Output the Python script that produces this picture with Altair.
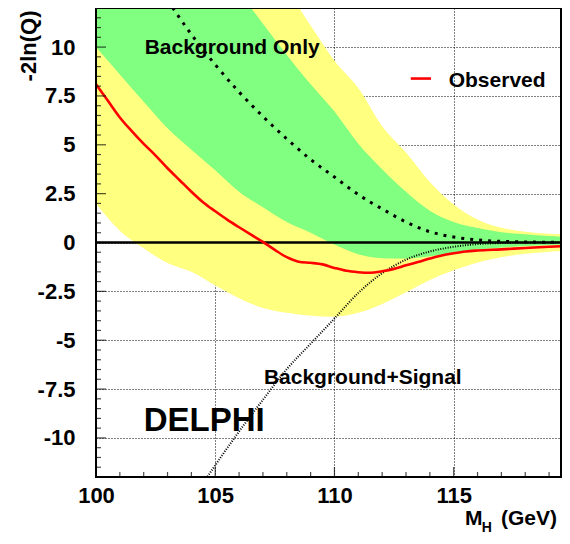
import altair as alt
import pandas as pd

# ---------------- data ----------------
# expected bands (background-only hypothesis), common mass grid
MASS_BAND = [100, 101, 102, 103, 104, 105, 106, 107, 108, 109, 110,
             111, 112, 113, 114, 115, 116, 117, 118, 119, 119.5]
HI2 = [26, 24, 22, 20, 18.5, 17, 15.3, 14.0, 12.9, 11.1, 9.3,
       7.9, 5.95, 4.6, 3.1, 1.95, 1.18, 0.75, 0.55, 0.45, 0.42]
HI1 = [22, 20.5, 19, 17.3, 15.8, 14.3, 12.8, 11.2, 9.6, 8.1, 6.7,
       5.05, 3.75, 2.6, 1.63, 1.05, 0.74, 0.53, 0.42, 0.33, 0.3]
LO1 = [10.0, 8.6, 7.2, 5.85, 4.75, 3.7, 2.6, 1.8, 1.05, 0.5, -0.1,
       -0.6, -0.8, -0.82, -0.7, -0.52, -0.36, -0.26, -0.18, -0.13, -0.1]
LO2 = [2.0, 0.6, -0.3, -1.05, -1.5, -2.2, -2.85, -3.35, -3.6, -3.75, -3.8,
       -3.6, -3.15, -2.55, -1.92, -1.42, -1.02, -0.75, -0.58, -0.47, -0.44]

# expected curve, background only
BG_MASS = [103, 104, 105, 106, 107, 108, 109, 110, 111, 112, 113,
           114, 115, 116, 117, 118, 119, 119.5]
BG_EXP = [12.4, 10.65, 9.1, 7.7, 6.45, 5.3, 4.25, 3.35, 2.45, 1.72, 1.05,
          0.55, 0.28, 0.13, 0.06, 0.03, 0.01, 0.01]

# expected curve, background + signal
SB_MASS = [104.5, 105, 106, 107, 108, 109, 110, 111, 112, 113, 114,
           115, 116, 117, 118, 119, 119.5]
SB_EXP = [-12.3, -11.4, -9.67, -8.05, -6.48, -5.18, -3.89, -2.58, -1.57, -0.88, -0.46,
          -0.22, -0.08, -0.03, -0.01, 0.0, 0.0]

# observed
OBS_MASS = [100, 100.5, 101, 101.5, 102, 102.5, 103, 103.5, 104, 104.5,
            105, 105.5, 106, 106.5, 107, 107.5, 108, 108.5, 109, 109.5,
            110, 110.5, 111, 111.5, 112, 112.5, 113, 113.5, 114, 114.5,
            115, 115.5, 116, 117, 118, 119, 119.5]
OBS = [8.1, 7.25, 6.4, 5.7, 5.05, 4.45, 3.8, 3.2, 2.6, 2.05,
       1.6, 1.17, 0.78, 0.4, 0.03, -0.38, -0.75, -0.98, -1.04, -1.12,
       -1.3, -1.45, -1.52, -1.55, -1.47, -1.35, -1.17, -1.0, -0.82, -0.66,
       -0.55, -0.46, -0.41, -0.35, -0.28, -0.22, -0.19]

# axis ticks
X_MAJOR = [100, 105, 110, 115]
X_MINOR = [m for m in range(101, 120) if m % 5 != 0]
Y_MAJOR = [-10, -7.5, -5, -2.5, 0, 2.5, 5, 7.5, 10]
Y_MINOR = [v / 2 for v in range(-23, 24) if v % 5 != 0]

# ---------------- chart ----------------
FONT = "Liberation Sans"
xs = alt.Scale(domain=[100, 119.5], nice=False, zero=False)
ys = alt.Scale(domain=[-12, 12], nice=False, zero=False)

x_axis = alt.Axis(values=X_MAJOR, title=None, grid=True, gridColor="black",
                  gridDash=[1, 2], gridWidth=1, gridOpacity=1, domain=False,
                  ticks=False, tickSize=0, labelFont=FONT, labelFontSize=22,
                  labelFontWeight="bold", labelColor="black", labelPadding=8,
                  labelExpr="'' + datum.value", labelFlush=False, labelOverlap=False)
y_axis = alt.Axis(values=Y_MAJOR, title="-2ln(Q)", grid=True, gridColor="black",
                  gridDash=[1, 2], gridWidth=1, gridOpacity=1, domain=False,
                  ticks=False, tickSize=0, labelFont=FONT, labelFontSize=22,
                  labelFontWeight="bold", labelColor="black", labelPadding=21,
                  labelExpr="'' + datum.value", labelFlush=False, labelOverlap=False,
                  titleFont=FONT, titleFontSize=22, titleFontWeight="bold",
                  titleColor="black", titleAngle=-90, titleAlign="right",
                  titleBaseline="middle", titleX=-68, titleY=2)

X = lambda f="m": alt.X(f"{f}:Q", scale=xs, axis=x_axis)
Y = lambda f="v": alt.Y(f"{f}:Q", scale=ys, axis=y_axis)

band_df = pd.DataFrame({"m": MASS_BAND, "lo2": LO2, "hi2": HI2, "lo1": LO1, "hi1": HI1})
bg_df = pd.DataFrame({"m": BG_MASS, "v": BG_EXP})
sb_df = pd.DataFrame({"m": SB_MASS, "v": SB_EXP})
obs_df = pd.DataFrame({"m": OBS_MASS, "v": OBS})
one = pd.DataFrame({"k": [0]})

yellow = alt.Chart(band_df).mark_area(color="#ffff80", clip=True, interpolate="monotone").encode(
    x=X(), y=Y("lo2"), y2="hi2:Q")
green = alt.Chart(band_df).mark_area(color="#80ff80", clip=True, interpolate="monotone").encode(
    x=X(), y=Y("lo1"), y2="hi1:Q")
zero = alt.Chart(one).mark_rule(color="black", strokeWidth=2.7).encode(y=alt.datum(0))
bg = alt.Chart(bg_df).mark_line(color="black", strokeWidth=3, strokeDash=[3, 6], strokeCap="butt",
                                clip=True, interpolate="monotone").encode(x=X(), y=Y())
sb = alt.Chart(sb_df).mark_line(color="black", strokeWidth=2, strokeDash=[1, 1.5], strokeCap="butt",
                                clip=True, interpolate="monotone").encode(x=X(), y=Y())
obs = alt.Chart(obs_df).mark_line(color="#ff0000", strokeWidth=2.6, clip=True,
                                  interpolate="monotone").encode(x=X(), y=Y())

xminor = alt.Chart(pd.DataFrame({"m": X_MINOR})).mark_tick(
    orient="vertical", size=5, thickness=1.2, color="black", yOffset=-2.5).encode(x=X(), y=alt.datum(-12))
xmajor = alt.Chart(pd.DataFrame({"m": X_MAJOR})).mark_tick(
    orient="vertical", size=10, thickness=1.2, color="black", yOffset=-5).encode(x=X(), y=alt.datum(-12))
yminor = alt.Chart(pd.DataFrame({"v": Y_MINOR})).mark_tick(
    orient="horizontal", size=5, thickness=1.2, color="black", xOffset=2.5).encode(x=alt.datum(100), y=Y())
ymajor = alt.Chart(pd.DataFrame({"v": Y_MAJOR})).mark_tick(
    orient="horizontal", size=10, thickness=1.2, color="black", xOffset=5).encode(x=alt.datum(100), y=Y())

frame = alt.Chart(one).mark_rect(fillOpacity=0, stroke="black", strokeWidth=2).encode(
    x=alt.datum(100), x2=alt.datum(119.5), y=alt.datum(-12), y2=alt.datum(12))

legend_line = alt.Chart(one).mark_rule(color="#ff0000", strokeWidth=2.6).encode(
    x=alt.datum(113.2), x2=alt.datum(114.05), y=alt.datum(8.39))


def label(txt, x, y, size, align="left", baseline="alphabetic"):
    return alt.Chart(one).mark_text(text=txt, font=FONT, fontSize=size, fontWeight="bold",
                                    color="black", align=align, baseline=baseline).encode(
        x=alt.datum(x), y=alt.datum(y))


texts = [
    label("Background Only", 102.04, 9.65, 21),
    label("Observed", 114.79, 7.95, 21),
    label("Background+Signal", 107.04, -7.26, 21),
    label("DELPHI", 102.0, -9.65, 33),
    label("M", 115.47, -14.45, 21),
    label("H", 116.18, -14.8, 14),
    label("(GeV)", 116.98, -14.45, 21),
]

chart = alt.layer(
    yellow, green, zero, bg, sb, obs,
    xminor, xmajor, yminor, ymajor, frame, legend_line, *texts
).properties(
    width=465, height=469,
    autosize=alt.AutoSizeParams(type="none"),
    padding={"left": 88, "top": 0, "right": 1, "bottom": 59},
).configure_view(stroke=None)

chart.save("out.html", embed_options={"renderer": "svg", "actions": False})
